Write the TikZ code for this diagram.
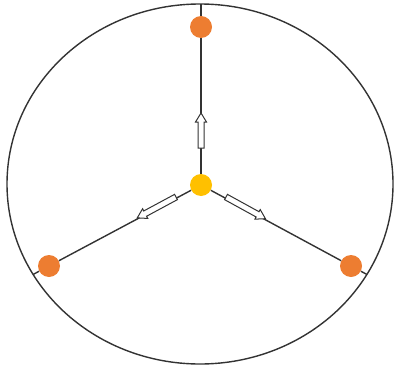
\documentclass[tikz,border=0pt]{standalone}
\definecolor{dotorange}{HTML}{ED7D31}
\definecolor{dotyellow}{HTML}{FFC000}
\definecolor{linegray}{HTML}{333333}
\tikzset{
  dot/.style={circle, inner sep=0pt, minimum size=22pt},
  outerdot/.style={dot, fill=dotorange},
  centerdot/.style={dot, fill=dotyellow},
  spoke/.style={draw=linegray, line width=1.4pt},
  harrow/.pic={\draw[linegray, line width=1pt, fill=white, line join=miter]
    (0,-3) -- (\harrowlen-9,-3) -- (\harrowlen-9,-5.5) -- (\harrowlen,0)
    -- (\harrowlen-9,5.5) -- (\harrowlen-9,3) -- (0,3) -- cycle;}
}
\begin{document}
\begin{tikzpicture}[x=1pt,y=1pt]
\useasboundingbox (0,0) rectangle (395,370);
% outer ellipse
\draw[linegray, line width=1.4pt] (200,186) ellipse [x radius=193, y radius=180];
% nodes
\node[centerdot] (c) at (201,185) {};
\node[outerdot] (t) at (201,343) {};
\node[outerdot] (l) at (49,104) {};
\node[outerdot] (r) at (351,104) {};
\coordinate (et) at (201,366);
\coordinate (el) at (33,95.5);
\coordinate (er) at (367,95.5);
% spokes
\draw[spoke] (c) -- (t);
\draw[spoke] (t) -- (et);
\draw[spoke] (c) -- (l);
\draw[spoke] (l) -- (el);
\draw[spoke] (c) -- (r);
\draw[spoke] (r) -- (er);
% hollow arrows
\def\harrowlen{35}
\pic[rotate=90] at (201,222) {harrow};
\def\harrowlen{44}
\pic[rotate=208.3] at (176,173) {harrow};
\def\harrowlen{45}
\pic[rotate=-28.8] at (226,173) {harrow};
\end{tikzpicture}
\end{document}
